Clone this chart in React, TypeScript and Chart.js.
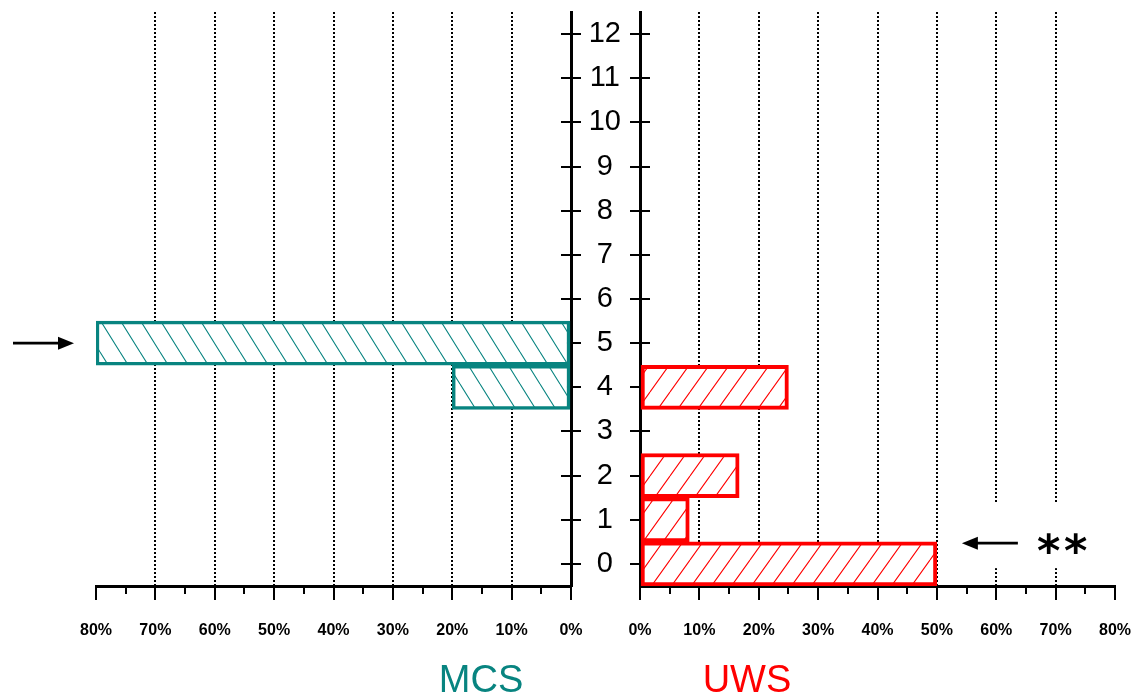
import React, { useEffect, useRef } from 'react';
import { Chart, registerables } from 'chart.js';

Chart.register(...registerables);

// ---- data ----
const categories = ['0', '1', '2', '3', '4', '5', '6', '7', '8', '9', '10', '11', '12'];
const mcsValues = [0, 0, 0, 0, 20, 80, 0, 0, 0, 0, 0, 0, 0];
const uwsValues = [50, 8.3, 16.7, 0, 25, 0, 0, 0, 0, 0, 0, 0, 0];
const xMin = 0;
const xMax = 80;
const xStep = 10;
const xMinorStep = 5;
const groupNames = ['MCS', 'UWS'];
const mcsMarkedIndex = 5;
const uwsMarkedIndex = 0;
const uwsMarkText = '**';

// ---- styles ----
const TEAL = '#088480';
const RED = '#ff0000';
const FONT = "'Liberation Sans', Arial, sans-serif";

function makeHatch(target: CanvasRenderingContext2D, color: string, dir: 'down' | 'up') {
  const W = 20;
  const H = dir === 'down' ? 32 : 28;
  const c = document.createElement('canvas');
  c.width = W;
  c.height = H;
  const g = c.getContext('2d')!;
  g.fillStyle = '#ffffff';
  g.fillRect(0, 0, W, H);
  g.strokeStyle = color;
  g.lineWidth = 1.1;
  g.beginPath();
  for (const o of [-W, 0, W]) {
    if (dir === 'down') {
      g.moveTo(o, 0);
      g.lineTo(o + W, H);
    } else {
      g.moveTo(o, H);
      g.lineTo(o + W, 0);
    }
  }
  g.stroke();
  return target.createPattern(c, 'repeat')!;
}

function drawArrow(ctx: CanvasRenderingContext2D, xTail: number, xTip: number, y: number) {
  const dir = Math.sign(xTip - xTail);
  const headLen = 16;
  const headHalf = 6.5;
  ctx.save();
  ctx.strokeStyle = '#000';
  ctx.fillStyle = '#000';
  ctx.lineWidth = 2.6;
  ctx.beginPath();
  ctx.moveTo(xTail, y);
  ctx.lineTo(xTip - dir * headLen * 0.8, y);
  ctx.stroke();
  ctx.beginPath();
  ctx.moveTo(xTip, y);
  ctx.lineTo(xTip - dir * headLen, y - headHalf);
  ctx.lineTo(xTip - dir * headLen, y + headHalf);
  ctx.closePath();
  ctx.fill();
  ctx.restore();
}

function drawGlyphCentered(ctx: CanvasRenderingContext2D, text: string, cx: number, cy: number, inkH: number) {
  const fam = "'DejaVu Sans', 'Liberation Sans', sans-serif";
  ctx.save();
  ctx.font = `bold 100px ${fam}`;
  const m = ctx.measureText(text);
  const h = m.actualBoundingBoxAscent + m.actualBoundingBoxDescent || 50;
  const size = (100 * inkH) / h;
  ctx.font = `bold ${size}px ${fam}`;
  const m2 = ctx.measureText(text);
  ctx.textAlign = 'left';
  ctx.textBaseline = 'alphabetic';
  ctx.fillStyle = '#000';
  const x = cx - (m2.actualBoundingBoxRight - m2.actualBoundingBoxLeft) / 2;
  const y = cy + (m2.actualBoundingBoxAscent - m2.actualBoundingBoxDescent) / 2;
  ctx.fillText(text, x, y);
  ctx.restore();
}

const axisMarksPlugin = (side: 'left' | 'right') => ({
  id: 'axisMarks_' + side,
  beforeDatasetsDraw(chart: any) {
    const { ctx, chartArea, scales } = chart;
    const xs = scales.x;
    const ys = scales.y;
    const x0 = side === 'left' ? chartArea.right : chartArea.left;
    ctx.save();
    ctx.strokeStyle = '#000';
    ctx.lineWidth = 2;
    ctx.beginPath();
    categories.forEach((_, i) => {
      const y = Math.round(ys.getPixelForValue(i));
      ctx.moveTo(x0 - 10, y);
      ctx.lineTo(x0 + 10, y);
    });
    for (let v = xMin; v <= xMax; v += xMinorStep) {
      const x = Math.round(xs.getPixelForValue(v));
      const len = v % xStep === 0 ? 14 : 8;
      ctx.moveTo(x, chartArea.bottom);
      ctx.lineTo(x, chartArea.bottom + len);
    }
    ctx.stroke();
    ctx.restore();
  },
});

const decorPlugin = (side: 'left' | 'right') => ({
  id: 'decor_' + side,
  afterDraw(chart: any) {
    const { ctx, chartArea, scales } = chart;
    const xs = scales.x;
    const ys = scales.y;
    ctx.save();
    ctx.font = `38px ${FONT}`;
    ctx.textAlign = 'center';
    ctx.textBaseline = 'alphabetic';
    if (side === 'left') {
      ctx.fillStyle = TEAL;
      ctx.fillText(groupNames[0], chartArea.right - 90, 692);
      const y = ys.getPixelForValue(mcsMarkedIndex);
      drawArrow(ctx, chartArea.left - 83, chartArea.left - 22, y);
    } else {
      ctx.fillStyle = RED;
      ctx.fillText(groupNames[1], chartArea.left + 107, 692);
      const y = ys.getPixelForValue(uwsMarkedIndex + 0.47);
      const tipX = xs.getPixelForValue(uwsValues[uwsMarkedIndex]) + 25;
      ctx.fillStyle = '#fff';
      ctx.fillRect(tipX - 10, y - 41, 135, 66);
      drawArrow(ctx, tipX + 56, tipX, y);
      uwsMarkText.split('').forEach((ch, i) => {
        drawGlyphCentered(ctx, ch, tipX + 75 + i * 27, y, 21);
      });
    }
    ctx.restore();
  },
});

function buildChart(canvas: HTMLCanvasElement, side: 'left' | 'right') {
  const ctx = canvas.getContext('2d')!;
  const isLeft = side === 'left';
  const color = isLeft ? TEAL : RED;
  const values = isLeft ? mcsValues : uwsValues;
  const pattern = makeHatch(ctx, color, isLeft ? 'down' : 'up');
  return new Chart(ctx, {
    type: 'bar',
    data: {
      labels: categories,
      datasets: [
        {
          label: groupNames[isLeft ? 0 : 1],
          data: values.map((v) => (v > 0 ? v : null)),
          backgroundColor: pattern as any,
          borderColor: color,
          borderWidth: isLeft ? 3.5 : 4,
          borderSkipped: false,
          barPercentage: 1,
          categoryPercentage: 1,
        } as any,
      ],
    },
    options: {
      indexAxis: 'y',
      responsive: false,
      animation: false,
      devicePixelRatio: 1,
      layout: {
        padding: isLeft
          ? { left: 96, top: 12, right: 0, bottom: 0 }
          : { left: 0, top: 12, right: 32, bottom: 0 },
      },
      plugins: {
        legend: { display: false },
        tooltip: { enabled: false },
        title: { display: false },
      },
      scales: {
        x: {
          type: 'linear',
          min: xMin,
          max: xMax,
          reverse: isLeft,
          position: 'bottom',
          grid: {
            color: (c: any) =>
              c.tick && (c.tick.value === xMin || c.tick.value === xMax) ? 'rgba(0,0,0,0)' : '#000',
            lineWidth: 2,
            drawTicks: false,
          },
          border: { display: true, color: '#000', width: 3, dash: [2, 2] },
          ticks: {
            stepSize: xStep,
            autoSkip: false,
            maxRotation: 0,
            minRotation: 0,
            padding: 35,
            color: '#000',
            font: { family: FONT, size: 16, weight: 'bold' },
            callback: (v: any) => v + '%',
          },
          afterFit: (s: any) => {
            s.height = 112;
            s.paddingLeft = 0;
            s.paddingRight = 0;
          },
        },
        y: {
          type: 'category',
          reverse: true,
          offset: true,
          position: isLeft ? 'right' : 'left',
          grid: { drawOnChartArea: false, drawTicks: false },
          border: { display: true, color: '#000', width: 3 },
          ticks: {
            display: !isLeft,
            autoSkip: false,
            padding: 19,
            crossAlign: 'center',
            color: '#000',
            font: { family: FONT, size: 29 },
          },
          afterFit: (s: any) => {
            s.width = isLeft ? 19 : 70;
            s.paddingTop = 0;
            s.paddingBottom = 0;
          },
        },
      },
    } as any,
    plugins: [axisMarksPlugin(side), decorPlugin(side)],
  });
}

export default function App() {
  const leftRef = useRef<HTMLCanvasElement>(null);
  const rightRef = useRef<HTMLCanvasElement>(null);

  useEffect(() => {
    const a = buildChart(leftRef.current!, 'left');
    const b = buildChart(rightRef.current!, 'right');
    return () => {
      a.destroy();
      b.destroy();
    };
  }, []);

  return (
    <div
      style={{
        position: 'fixed',
        left: 0,
        top: 0,
        width: 1147,
        height: 698,
        background: '#fff',
        overflow: 'hidden',
      }}
    >
      <canvas
        ref={leftRef}
        width={590}
        height={698}
        style={{ position: 'absolute', left: 0, top: 0, width: 590, height: 698 }}
      />
      <canvas
        ref={rightRef}
        width={577}
        height={698}
        style={{ position: 'absolute', left: 570, top: 0, width: 577, height: 698 }}
      />
    </div>
  );
}
